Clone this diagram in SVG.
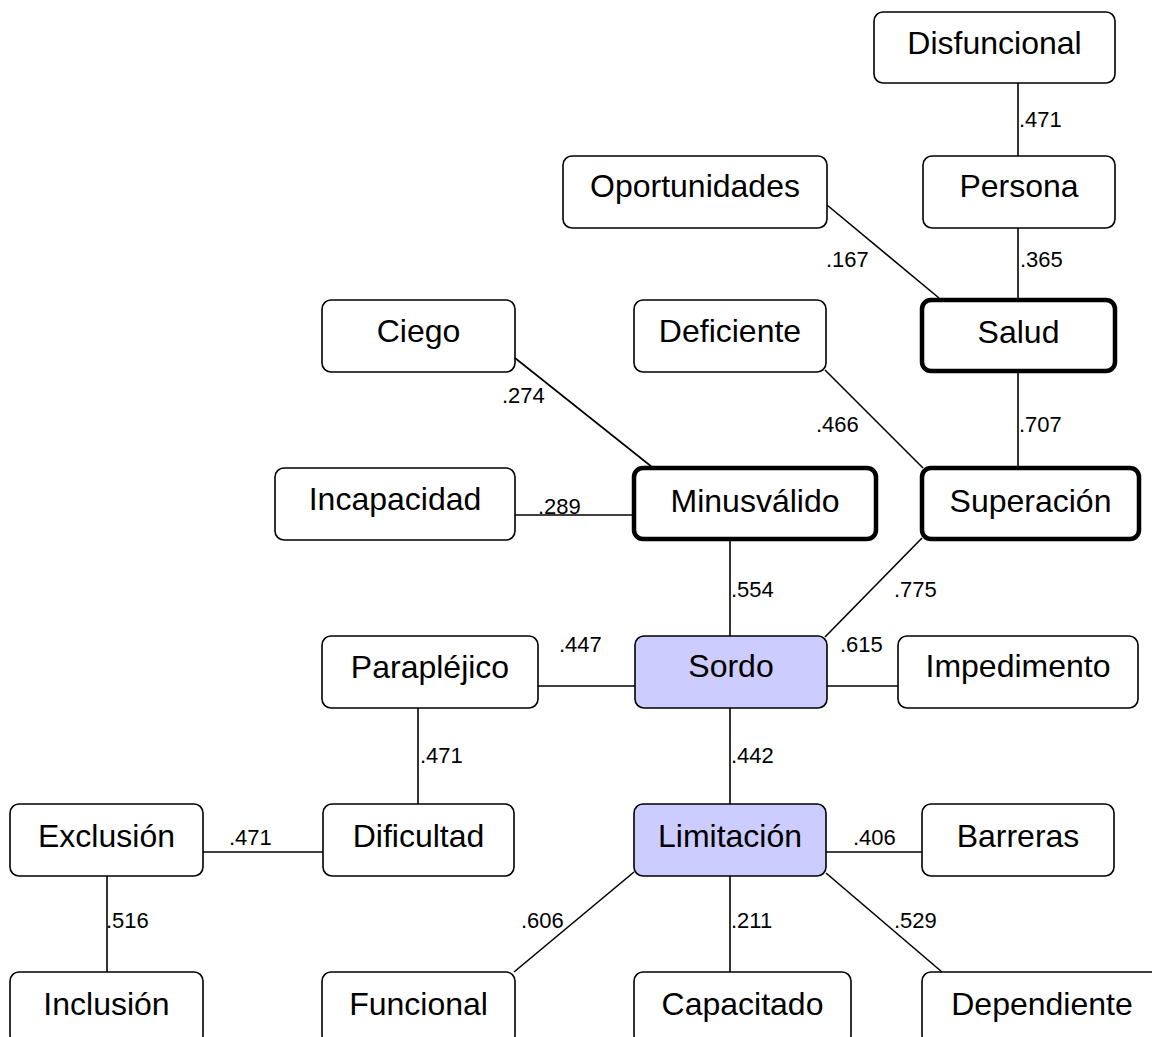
<svg xmlns="http://www.w3.org/2000/svg" width="1152" height="1037" viewBox="0 0 1152 1037">
<style>
.box{fill:#fff;stroke:#000;stroke-width:1.6}
.thick{fill:#fff;stroke:#000;stroke-width:4.5}
.hl{fill:#ccccff;stroke:#000;stroke-width:1.6}
.t{font-family:"Liberation Sans",Arial,sans-serif;font-size:32px;fill:#000;text-anchor:middle}
.l{font-family:"Liberation Sans",Arial,sans-serif;font-size:22px;fill:#000}
.c{stroke:#000;stroke-width:1.6;fill:none}
</style>
<rect width="1152" height="1037" fill="#fff"/>
<g id="connectors">
<line class="c" x1="1018" y1="83" x2="1018" y2="156"/>
<line class="c" x1="1018" y1="228" x2="1018" y2="300"/>
<line class="c" x1="827" y1="205" x2="939" y2="298"/>
<line class="c" x1="1018" y1="371" x2="1018" y2="467"/>
<line class="c" x1="825" y1="370" x2="923" y2="468"/>
<line class="c" x1="515" y1="358" x2="652" y2="467"/>
<line class="c" x1="515" y1="515" x2="633" y2="515"/>
<line class="c" x1="730" y1="540" x2="730" y2="636"/>
<line class="c" x1="922" y1="538" x2="825" y2="637"/>
<line class="c" x1="538" y1="686" x2="635" y2="686"/>
<line class="c" x1="827" y1="686" x2="898" y2="686"/>
<line class="c" x1="418" y1="708" x2="418" y2="804"/>
<line class="c" x1="730" y1="708" x2="730" y2="804"/>
<line class="c" x1="203" y1="852" x2="323" y2="852"/>
<line class="c" x1="826" y1="852" x2="922" y2="852"/>
<line class="c" x1="107" y1="876" x2="107" y2="972"/>
<line class="c" x1="634" y1="872" x2="514" y2="972"/>
<line class="c" x1="730" y1="876" x2="730" y2="972"/>
<line class="c" x1="826" y1="873" x2="942" y2="972"/>
<text class="l" x="1019" y="127">.471</text>
<text class="l" x="1020" y="267">.365</text>
<text class="l" x="826" y="267">.167</text>
<text class="l" x="1019" y="432">.707</text>
<text class="l" x="816" y="432">.466</text>
<text class="l" x="502" y="403">.274</text>
<text class="l" x="538" y="514">.289</text>
<text class="l" x="731" y="597">.554</text>
<text class="l" x="894" y="597">.775</text>
<text class="l" x="559" y="652">.447</text>
<text class="l" x="840" y="652">.615</text>
<text class="l" x="420" y="763">.471</text>
<text class="l" x="731" y="763">.442</text>
<text class="l" x="229" y="845">.471</text>
<text class="l" x="853" y="845">.406</text>
<text class="l" x="106" y="928">.516</text>
<text class="l" x="521" y="928">.606</text>
<text class="l" x="731" y="928">.211</text>
<text class="l" x="894" y="928">.529</text>
</g>
<g id="n-disfuncional"><rect class="box" x="874" y="12" width="241" height="71" rx="9"/><text class="t" x="994.5" y="54">Disfuncional</text></g>
<g id="n-persona"><rect class="box" x="923" y="156" width="192" height="72" rx="9"/><text class="t" x="1019" y="197">Persona</text></g>
<g id="n-oportunidades"><rect class="box" x="563" y="156" width="264" height="72" rx="9"/><text class="t" x="695" y="197">Oportunidades</text></g>
<g id="n-salud"><rect class="thick" x="922" y="300" width="193" height="71" rx="9"/><text class="t" x="1018.5" y="343">Salud</text></g>
<g id="n-ciego"><rect class="box" x="322" y="300" width="193" height="72" rx="9"/><text class="t" x="418.5" y="342">Ciego</text></g>
<g id="n-deficiente"><rect class="box" x="634" y="300" width="192" height="72" rx="9"/><text class="t" x="730" y="342">Deficiente</text></g>
<g id="n-incapacidad"><rect class="box" x="275" y="468" width="240" height="72" rx="9"/><text class="t" x="395" y="510">Incapacidad</text></g>
<g id="n-minusvalido"><rect class="thick" x="634" y="468" width="242" height="71" rx="9"/><text class="t" x="755" y="512">Minusválido</text></g>
<g id="n-superacion"><rect class="thick" x="922" y="468" width="217" height="71" rx="9"/><text class="t" x="1030.5" y="512">Superación</text></g>
<g id="n-paraplejico"><rect class="box" x="322" y="636" width="216" height="72" rx="9"/><text class="t" x="430" y="678">Parapléjico</text></g>
<g id="n-sordo"><rect class="hl" x="635" y="636" width="192" height="72" rx="9"/><text class="t" x="731" y="677">Sordo</text></g>
<g id="n-impedimento"><rect class="box" x="898" y="636" width="240" height="72" rx="9"/><text class="t" x="1018" y="677">Impedimento</text></g>
<g id="n-exclusion"><rect class="box" x="10" y="804" width="193" height="72" rx="9"/><text class="t" x="106.5" y="847">Exclusión</text></g>
<g id="n-dificultad"><rect class="box" x="323" y="804" width="191" height="72" rx="9"/><text class="t" x="418.5" y="847">Dificultad</text></g>
<g id="n-limitacion"><rect class="hl" x="634" y="804" width="192" height="72" rx="9"/><text class="t" x="730" y="847">Limitación</text></g>
<g id="n-barreras"><rect class="box" x="922" y="804" width="192" height="72" rx="9"/><text class="t" x="1018" y="847">Barreras</text></g>
<g id="n-inclusion"><rect class="box" x="10" y="972" width="193" height="72" rx="9"/><text class="t" x="106.5" y="1015">Inclusión</text></g>
<g id="n-funcional"><rect class="box" x="322" y="972" width="193" height="72" rx="9"/><text class="t" x="418.5" y="1015">Funcional</text></g>
<g id="n-capacitado"><rect class="box" x="634" y="972" width="217" height="72" rx="9"/><text class="t" x="742.5" y="1015">Capacitado</text></g>
<g id="n-dependiente"><rect class="box" x="922" y="972" width="240" height="72" rx="9"/><text class="t" x="1042" y="1015">Dependiente</text></g>
</svg>
